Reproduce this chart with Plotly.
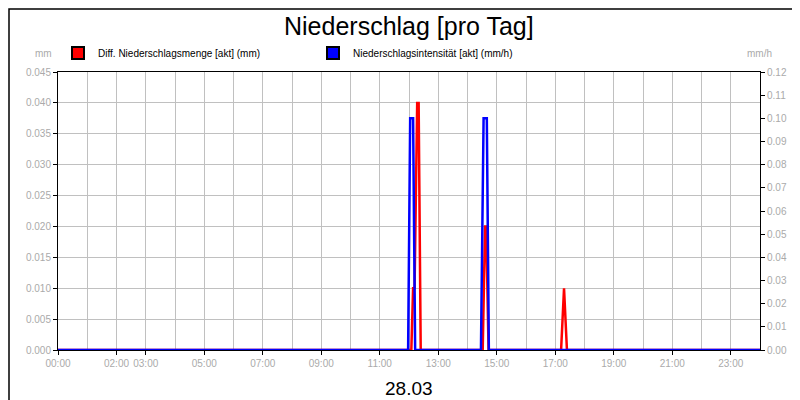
import plotly.graph_objects as go

# Stunden des Tages (28.03) und Werte
menge_h = [0, 12.08, 12.14, 12.19, 12.28, 12.33, 12.4, 14.52, 14.6, 14.64, 14.72, 17.2, 17.3, 17.4, 24]
menge_mm = [0, 0, 0.01, 0.01, 0.04, 0.04, 0, 0, 0.02, 0.02, 0, 0, 0.01, 0, 0]
int_h = [0, 11.97, 12.04, 12.14, 12.21, 14.46, 14.55, 14.66, 14.73, 24]
int_mmh = [0, 0, 0.1, 0.1, 0, 0, 0.1, 0.1, 0, 0]
tick_h = [0, 2, 3, 5, 7, 9, 11, 13, 15, 17, 19, 21, 23]
tick_txt = ["00:00", "02:00", "03:00", "05:00", "07:00", "09:00", "11:00",
            "13:00", "15:00", "17:00", "19:00", "21:00", "23:00"]
namen = ["Diff. Niederschlagsmenge [akt] (mm)", "Niederschlagsintensität [akt] (mm/h)"]
farben = ["#ff0000", "#0000ff"]

fig = go.Figure()
# stündliche Gitterlinien über ein Hilfsaxis
fig.add_trace(go.Scatter(x=[0, 24], y=[0, 0], xaxis="x2", mode="lines",
                         line=dict(width=0), showlegend=False, hoverinfo="skip"))
fig.add_trace(go.Scatter(x=int_h, y=int_mmh, mode="lines", yaxis="y2",
                         line=dict(color=farben[1], width=2.5), showlegend=False))
fig.add_trace(go.Scatter(x=menge_h, y=menge_mm, mode="lines",
                         line=dict(color=farben[0], width=2.5), showlegend=False))
# Legende mit Quadraten
for n, c in zip(namen, farben):
    fig.add_trace(go.Scatter(x=[None], y=[None], mode="markers", name=n,
                             marker=dict(symbol="square", size=9, color=c,
                                         line=dict(color="black", width=1))))

grey = "#aaaaaa"
fig.update_layout(
    width=800, height=400,
    margin=dict(l=50, r=48, t=64, b=58, autoexpand=False),
    paper_bgcolor="white", plot_bgcolor="white",
    font=dict(family="Liberation Sans, Arial", size=10, color="black"),
    showlegend=True,
    legend=dict(orientation="h", x=0.0, y=1.068, xanchor="left", yanchor="middle",
                font=dict(size=10), entrywidth=210, entrywidthmode="pixels",
                traceorder="normal", itemsizing="constant"),
    xaxis=dict(range=[0, 24], tickvals=tick_h, ticktext=tick_txt, automargin=False,
               tickfont=dict(color=grey, size=10), ticks="outside", ticklen=4,
               tickcolor="black", showline=True, linecolor="black", mirror=True,
               showgrid=False, zeroline=False),
    xaxis2=dict(range=[0, 24], dtick=1, overlaying="x", showgrid=True, automargin=False,
                gridcolor="#c0c0c0", showticklabels=False),
    yaxis=dict(range=[0, 0.045], dtick=0.005, tickformat=".3f", automargin=False,
               tickfont=dict(color=grey, size=10), ticks="outside", ticklen=4,
               tickcolor="black", showline=True, linecolor="black",
               gridcolor="#c0c0c0", zeroline=False),
    yaxis2=dict(range=[0, 0.12], dtick=0.01, tickformat=".2f", overlaying="y",
                side="right", tickfont=dict(color=grey, size=10), ticks="outside",
                ticklen=4, tickcolor="black", showline=True, linecolor="black",
                showgrid=False, zeroline=False, automargin=False),
    shapes=[dict(type="rect", xref="paper", yref="paper", x0=-0.0698, x1=1.067,
                 y0=-0.205, y1=1.2266, line=dict(color="black", width=1.5))],
    annotations=[
        dict(text="Niederschlag [pro Tag]", xref="paper", yref="paper", x=0.5,
             y=1.165, yanchor="middle", showarrow=False,
             font=dict(size=25, color="black")),
        dict(text="mm", xref="paper", yref="paper", x=-0.005, y=1.068,
             xanchor="right", yanchor="middle", showarrow=False,
             font=dict(color=grey, size=10)),
        dict(text="mm/h", xref="paper", yref="paper", x=1.02, y=1.068,
             xanchor="right", yanchor="middle", showarrow=False,
             font=dict(color=grey, size=10)),
        dict(text="28.03", xref="paper", yref="paper", x=0.5, y=-0.14,
             yanchor="middle", showarrow=False, font=dict(size=19, color="black")),
    ],
)
fig.write_html("out.html")
